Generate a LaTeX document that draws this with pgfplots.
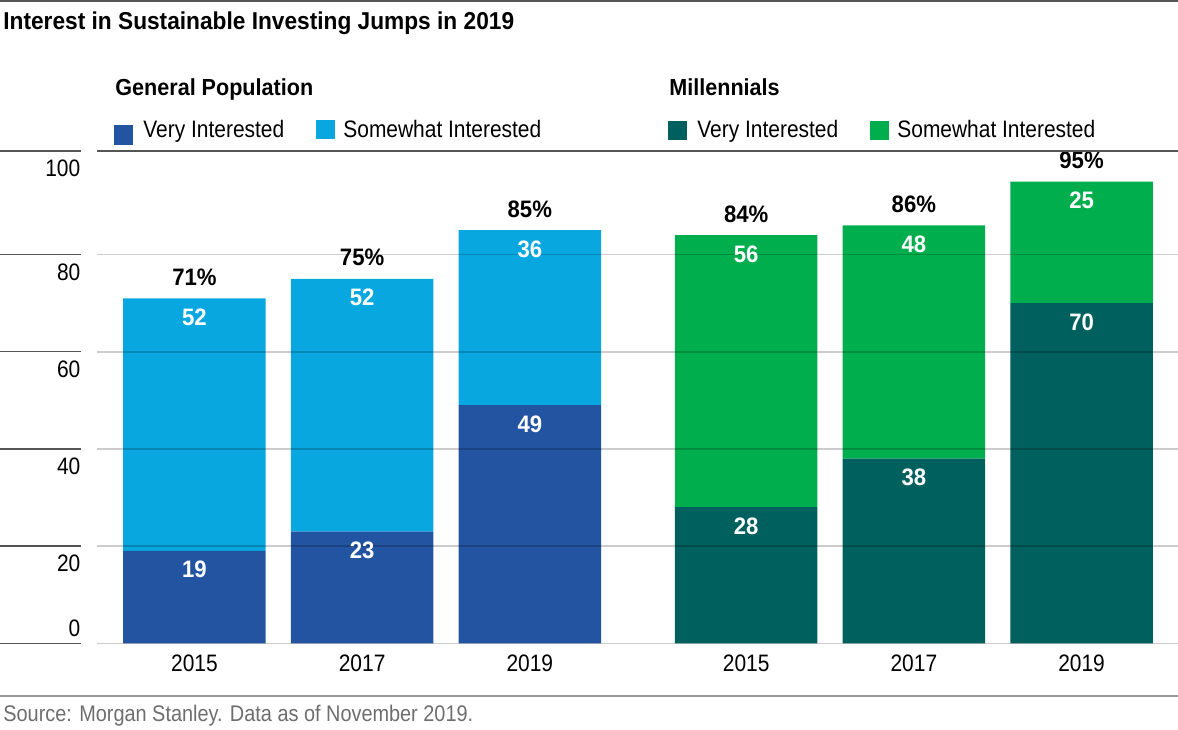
\documentclass[border=0pt]{standalone}
\usepackage{fontspec}
\setmainfont{Liberation Sans}
\newfontfamily\fr{Liberation Sans}[FakeStretch=0.88]
\newfontfamily\fb{Liberation Sans}[FakeStretch=0.93]
\usepackage{pgfplots}
\pgfplotsset{compat=1.18}

\definecolor{gpdark}{RGB}{35,84,162}
\definecolor{gplight}{RGB}{8,167,224}
\definecolor{mdark}{RGB}{0,96,93}
\definecolor{mgreen}{RGB}{0,174,77}
\definecolor{rule}{RGB}{85,85,85}
\definecolor{srcgray}{RGB}{110,110,110}

\newcommand\txt{\fr\fontsize{11.9}{14}\selectfont}
\newcommand\src{\fr\fontsize{11.3}{13}\selectfont}
\newcommand\bld{\fb\bfseries\fontsize{11.9}{14}\selectfont}
\newcommand\ttl{\fb\bfseries\fontsize{12.2}{14}\selectfont}
\newcommand\hdr{\fb\bfseries\fontsize{11.6}{13}\selectfont}

\begin{document}
\begin{tikzpicture}
  \begin{axis}[
    at={(0,0)}, anchor=south west,
    scale only axis, width=540.5pt, height=246.15pt,
    xmin=-0.581, xmax=5.865, ymin=0, ymax=101.3,
    ybar stacked, bar width=0.849,
    axis line style={draw=none}, tick style={draw=none},
    xtick={0,1,2,3.29,4.29,5.29},
    xticklabels={2015,2017,2019,2015,2017,2019},
    xticklabel style={anchor=base, inner sep=0pt, yshift=-14.2pt, font=\txt},
    ytick={20,40,60,80,101.3},
    yticklabels={20,40,60,80,100},
    yticklabel style={anchor=base east, inner sep=0pt, xshift=-8.15pt, yshift=-12.8pt, font=\txt},
    extra y ticks={0}, extra y tick labels={0},
    extra y tick style={yticklabel style={yshift=16.1pt}},
    ymajorgrids, grid style={black, opacity=0.2, line width=0.8pt},
    axis on top, clip=false,
  ]
    % general population
    \addplot[fill=gpdark, draw=none] coordinates {(0,19) (1,23) (2,49) (3.29,0) (4.29,0) (5.29,0)};
    \addplot[fill=gplight, draw=none] coordinates {(0,52) (1,52) (2,36) (3.29,0) (4.29,0) (5.29,0)};
    % millennials
    \addplot[fill=mdark, draw=none] coordinates {(0,0) (1,0) (2,0) (3.29,28) (4.29,38) (5.29,70)};
    \addplot[fill=mgreen, draw=none] coordinates {(0,0) (1,0) (2,0) (3.29,56) (4.29,48) (5.29,25)};

    % anchors for the value labels (segment tops)
    \coordinate (a1) at (axis cs:0,19);
    \coordinate (a2) at (axis cs:1,23);
    \coordinate (a3) at (axis cs:2,49);
    \coordinate (b1) at (axis cs:0,71);
    \coordinate (b2) at (axis cs:1,75);
    \coordinate (b3) at (axis cs:2,85);
    \coordinate (c1) at (axis cs:3.29,28);
    \coordinate (c2) at (axis cs:4.29,38);
    \coordinate (c3) at (axis cs:5.29,70);
    \coordinate (d1) at (axis cs:3.29,84);
    \coordinate (d2) at (axis cs:4.29,86);
    \coordinate (d3) at (axis cs:5.29,95);
  \end{axis}

  \tikzset{seg/.style={anchor=base, inner sep=0pt, yshift=-13.5pt, text=white, font=\bld},
           tot/.style={anchor=base, inner sep=0pt, yshift=6.5pt, text=black, font=\bld}}
  \node[seg] at (a1) {19};
  \node[seg] at (a2) {23};
  \node[seg] at (a3) {49};
  \node[seg] at (b1) {52};
  \node[seg] at (b2) {52};
  \node[seg] at (b3) {36};
  \node[seg] at (c1) {28};
  \node[seg] at (c2) {38};
  \node[seg] at (c3) {70};
  \node[seg] at (d1) {56};
  \node[seg] at (d2) {48};
  \node[seg] at (d3) {25};
  \node[tot] at (b1) {71\%};
  \node[tot] at (b2) {75\%};
  \node[tot] at (b3) {85\%};
  \node[tot] at (d1) {84\%};
  \node[tot] at (d2) {86\%};
  \node[tot] at (d3) {95\%};

  % frame, titles and legends in pixel units (y downwards)
  \begin{scope}[x=0.5pt, y=-0.5pt, shift={(-48.5pt,321.65pt)}]
    \draw[rule, line width=1pt] (0,0.8) -- (1178,0.8);
    \draw[rule, line width=0.9pt] (97,151) -- (1178,151);
    \foreach \yy in {151,254.5,351.7,448.9,546.1,643.3}
      \draw[rule, line width=0.8pt] (0,\yy) -- (81,\yy);
    \draw[black!40, line width=1pt] (0,696) -- (1178,696);

    \node[anchor=base west, inner sep=0pt, font=\ttl] at (3,30)
      {Interest in Sustainable Investing Jumps in 2019};

    \node[anchor=base west, inner sep=0pt, font=\hdr] at (115,96) {General Population};
    \fill[gpdark] (114,125) rectangle (133,145);
    \node[anchor=base west, inner sep=0pt, font=\txt] at (143,138) {Very Interested};
    \fill[gplight] (316,120) rectangle (335,139);
    \node[anchor=base west, inner sep=0pt, font=\txt] at (343,138) {Somewhat Interested};

    \node[anchor=base west, inner sep=0pt, font=\hdr] at (669,96) {Millennials};
    \fill[mdark] (668,121) rectangle (687,140);
    \node[anchor=base west, inner sep=0pt, font=\txt] at (697,138) {Very Interested};
    \fill[mgreen] (870,121) rectangle (889,140);
    \node[anchor=base west, inner sep=0pt, font=\txt] at (897,138) {Somewhat Interested};

    \node[anchor=base west, inner sep=0pt, text=srcgray, font=\src] at (3,721.7)
      {Source: Morgan Stanley. Data as of November 2019.};

    \pgfresetboundingbox
    \path (0,0) rectangle (1178,729);
  \end{scope}
\end{tikzpicture}
\end{document}
